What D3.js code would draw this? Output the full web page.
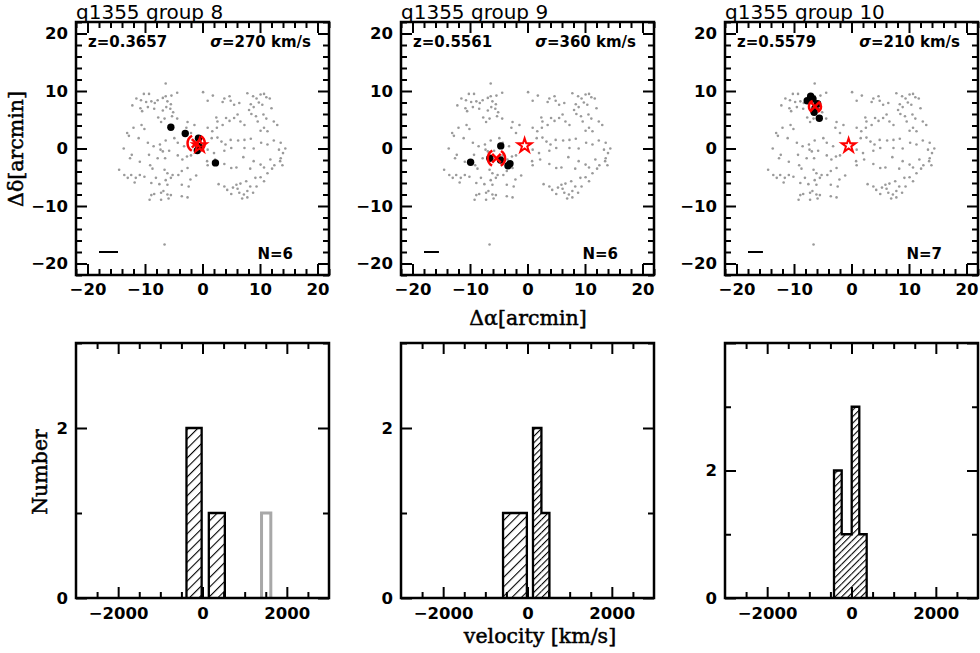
<!DOCTYPE html>
<html>
<head>
<meta charset="utf-8">
<script src="https://cdn.jsdelivr.net/npm/d3@7"></script>
<style>
  body { margin: 0; background: #fff; }
  svg { display: block; }
  .tick text { font-family: "DejaVu Sans", sans-serif; font-weight: bold; font-size: 16.5px; fill: #000; }
  .lbl { font-family: "DejaVu Serif", serif; font-size: 20.5px; fill: #000; stroke: #000; stroke-width: 0.5px; }
  .note { font-family: "DejaVu Sans", sans-serif; font-weight: bold; font-size: 15px; fill: #000; }
  .title { font-family: "DejaVu Sans", sans-serif; font-size: 20px; fill: #000; }
</style>
</head>
<body>
<svg width="980" height="653"></svg>
<script>
// ---- data ----
const groupNames = ["q1355 group 8", "q1355 group 9", "q1355 group 10"];
const redshifts = ["0.3657", "0.5561", "0.5579"];
const sigmas = [270, 360, 210];
const memberCounts = [6, 6, 7];

// all redshift-survey galaxies in the field, arcmin offsets [dRA, dDec]
const fieldGalaxies = [
  [-6.4,11.3],[-11.5,8.7],[-10.2,9.5],[-9.3,9.5],[-10.7,8.4],[-9.8,8.1],[-8.9,8.2],[-8.3,7.9],[-7.8,8.4],[-6.9,8.8],
  [-6.4,9.1],[-6.1,8.2],[-5.4,9.2],[-4.4,9.7],[-5.5,7.7],[0.1,9.8],[1.8,9.2],[0.9,8.3],[4.7,9.1],[3.8,8.7],
  [3.5,8.1],[4.9,8.3],[5.5,7.6],[6.4,7.9],[7.8,9.6],[8.8,9.1],[9.4,8.7],[10.1,9.4],[10.7,9.5],[11.1,8.9],
  [11.7,8.7],[9.8,8.0],[10.4,7.6],[8.4,7.7],[8.9,7.2],[8.1,6.7],[12.0,7.0],
  [-12.2,7.5],[-10.8,7.0],[-10.5,6.5],[-9.5,7.2],[-8.4,6.9],[-6.9,6.6],[-6.3,7.2],[-5.6,6.9],[-5.1,6.3],
  [-5.3,5.6],[-4.4,5.2],[-7.7,5.4],[-7.2,4.6],[-6.6,5.2],[-10.6,4.1],[-10.1,3.4],[-12.0,3.6],[-13.1,2.7],[-12.8,2.2],
  [-2.6,4.6],[-1.4,4.1],[-2.0,2.7],[-2.8,3.6],[2.4,5.4],[2.6,4.7],[3.5,4.1],[4.1,5.3],[4.7,4.8],[5.5,5.3],
  [6.1,5.9],[6.6,4.7],[7.3,4.1],[8.5,6.0],[9.3,5.6],[9.6,4.7],[10.6,5.9],[11.1,5.2],[12.4,4.7],[13.0,4.1],
  [10.7,3.6],[11.3,3.0],[10.1,3.1],
  [-11.1,1.8],[-9.5,1.0],[-8.5,0.4],[-7.4,0.7],[-6.4,1.4],[-4.9,1.8],[-4.3,1.0],[-3.2,0.4],[0.9,3.6],[1.7,3.0],
  [2.5,3.6],[1.6,1.8],[2.6,1.9],[3.3,1.2],[4.0,0.7],[4.9,1.5],[5.0,0.1],[6.2,1.4],[7.3,1.5],[8.4,1.7],
  [7.3,0.1],[8.9,0.0],[10.2,1.0],[11.3,0.7],[12.4,1.4],[13.6,1.0],[13.3,-0.2],[14.4,0.0],[14.0,-0.8],[-13.7,0.0],
  [-12.3,-1.1],[-12.6,-1.7],[-10.9,-2.3],[-7.3,-0.2],[-6.9,-0.5],[-5.8,-0.4],[-9.3,-1.1],[-7.8,-1.7],[-6.5,-1.7],[-4.3,-1.2],
  [-3.5,-1.9],[-2.7,-1.4],[-2.0,-1.2],[0.2,0.7],[0.9,-0.2],[2.0,-0.8],[3.8,-0.4],
  [0.8,-2.2],[0.9,-2.9],[2.2,-1.9],[3.8,-2.7],[5.0,-3.4],[5.9,-3.3],[7.1,-1.5],[8.3,-3.5],[8.9,-2.2],[10.1,-2.8],
  [10.7,-3.3],[11.3,-4.3],[12.1,-3.5],[12.5,-2.9],[13.5,-2.2],[13.9,-2.9],[13.6,-1.7],[11.8,-1.9],[-14.5,-3.7],[-13.6,-4.6],
  [-13.0,-5.1],[-12.4,-4.6],[-11.6,-5.1],[-10.9,-4.6],[-10.1,-4.9],[-9.1,-2.9],[-8.7,-3.5],[-6.6,-3.7],[-6.1,-4.3],[-5.2,-4.6],
  [-5.5,-5.1],[-4.2,-4.6],[-2.6,-3.4],[-3.6,-3.9],[-1.1,-4.7],[-2.1,-5.4],
  [-11.8,-5.9],[-8.9,-6.0],[-8.1,-5.1],[-7.5,-6.2],[-6.4,-5.5],[-6.1,-6.3],[-3.6,-6.3],[-2.4,-6.6],[2.8,-6.2],[3.8,-6.6],
  [4.3,-7.2],[5.3,-6.8],[5.9,-6.3],[6.6,-6.1],[7.6,-5.7],[8.3,-6.6],[9.2,-5.1],[10.1,-5.0],[10.7,-5.7],[9.4,-6.6],
  [7.8,-7.4],[7.2,-8.0],[8.8,-7.7],[6.4,-7.7],[6.1,-7.0],[5.0,-7.9],[-8.9,-8.1],[-8.4,-7.9],[-7.2,-7.7],[-6.8,-7.4],
  [-6.1,-8.0],[-5.5,-8.1],[-3.6,-8.3],[-2.6,-8.5],[-7.2,-8.9],[-5.9,-8.7],[-9.2,-8.9],[6.9,-8.7],[7.8,-8.5],[-6.6,-16.7]
];

// group members [dRA, dDec]
const members = [
  [[-5.5,3.7],[-3.0,2.6],[-0.7,1.8],[-0.6,0.35],[-0.9,-0.35],[2.25,-2.5]],
  [[-9.9,-2.4],[-6.55,-1.7],[-4.65,0.45],[-4.7,-2.0],[-3.4,-3.0],[-3.05,-2.65]],
  [[-7.1,9.1],[-7.7,8.3],[-6.7,8.6],[-5.9,7.8],[-6.35,7.0],[-6.5,6.3],[-5.6,5.25]]
];
const groupCentres = [[-1.1, 0.9], [-5.4, -1.7], [-6.35, 7.3]];
const centreRadius = [1.5, 1.5, 1.05];       // arcmin
const qsoPos = [-0.5, 0.5];
const scaleBarLength = [3.3, 2.6, 2.6];      // arcmin

// velocity histograms: [v_low, v_high, count]
const velBins = [
  [[-380, -20, 2], [150, 530, 1]],
  [[-580, -15, 1], [130, 330, 2], [330, 520, 1]],
  [[-415, -232, 2], [-232, 5, 1], [5, 185, 3], [185, 360, 1]]
];
const rejectedBins = [[[1400, 1620, 1]], [], []];
const histMax = [3, 3, 4];

// ---- layout ----
const svg = d3.select("svg");
const colX = [76, 401, 725];
const panelW = 253;
const topY = 22, topB = 275;
const botY = 343, botB = 598;

const defs = svg.append("defs");
function hatch(id, gap) {
  const p = defs.append("pattern").attr("id", id)
    .attr("patternUnits", "userSpaceOnUse")
    .attr("width", gap).attr("height", gap)
    .attr("patternTransform", "rotate(45)");
  p.append("line").attr("x1", 0).attr("y1", 0).attr("x2", 0).attr("y2", gap)
    .attr("stroke", "#000").attr("stroke-width", 2.2);
}
hatch("hatchDense", 4.6);
hatch("hatchSparse", 6.7);

function axes(g, x, y, xMajor, xMinor, yMajor, yMinor, pad, yLabels) {
  const [l, r] = x.range(), [b, t] = y.range();
  const w = r - l, h = b - t;
  const fmt = d3.format("d");
  const add = (axis, tr, labels) => {
    const a = g.append("g").attr("transform", tr).call(axis);
    a.select(".domain").remove();
    a.selectAll(".tick line").attr("stroke-width", 2);
    if (!labels) a.selectAll(".tick text").remove();
  };
  // bottom / left carry labels
  add(d3.axisBottom(x).tickValues(xMajor).tickSize(-11).tickPadding(pad).tickFormat(fmt), `translate(0,${b})`, true);
  add(d3.axisBottom(x).tickValues(xMinor).tickSize(-6).tickFormat(""), `translate(0,${b})`, false);
  add(d3.axisTop(x).tickValues(xMajor).tickSize(-11), `translate(0,${t})`, false);
  add(d3.axisTop(x).tickValues(xMinor).tickSize(-6), `translate(0,${t})`, false);
  add(d3.axisLeft(y).tickValues(yMajor).tickSize(-11).tickPadding(8)
        .tickFormat(v => (yLabels.includes(v) ? fmt(v) : "")), `translate(${l},0)`, true);
  add(d3.axisLeft(y).tickValues(yMinor).tickSize(-6).tickFormat(""), `translate(${l},0)`, false);
  add(d3.axisRight(y).tickValues(yMajor).tickSize(-11), `translate(${r},0)`, false);
  add(d3.axisRight(y).tickValues(yMinor).tickSize(-6), `translate(${r},0)`, false);
  g.append("rect").attr("x", l).attr("y", t).attr("width", w).attr("height", h)
    .attr("fill", "none").attr("stroke", "#000").attr("stroke-width", 2.5);
}

const star = d3.symbol().type(d3.symbolStar).size(60);
const skyTicks = [-20, -10, 0, 10, 20];
const skyMinor = d3.range(-22, 23, 2).filter(v => v % 10 !== 0);

groupNames.forEach((name, i) => {
  const x0 = colX[i];

  // ---------- sky panel ----------
  const x = d3.scaleLinear().domain([-22, 22]).range([x0, x0 + panelW]);
  const y = d3.scaleLinear().domain([-22, 22]).range([topB, topY]);
  const g = svg.append("g");

  g.selectAll("circle.field").data(fieldGalaxies).enter().append("circle")
    .attr("class", "field")
    .attr("cx", d => x(d[0])).attr("cy", d => y(d[1])).attr("r", 1.3)
    .attr("fill", "#9a9a9a");

  g.selectAll("circle.member").data(members[i]).enter().append("circle")
    .attr("class", "member")
    .attr("cx", d => x(d[0])).attr("cy", d => y(d[1])).attr("r", 3.7)
    .attr("fill", "#000");

  // quasar position
  g.append("path").attr("d", star)
    .attr("transform", `translate(${x(qsoPos[0])},${y(qsoPos[1])})`)
    .attr("fill", "none").attr("stroke", "#f00").attr("stroke-width", 2);

  // group centre: cross + dashed circle (only side arcs)
  const cx = x(groupCentres[i][0]), cy = y(groupCentres[i][1]);
  const rr = x(centreRadius[i]) - x(0);
  const C = 2 * Math.PI * rr;
  g.append("circle").attr("cx", cx).attr("cy", cy).attr("r", rr)
    .attr("fill", "none").attr("stroke", "#f00").attr("stroke-width", 2.5)
    .attr("stroke-dasharray", [C / 6, C / 6, C / 3, C / 6, C / 6].join(","));
  const s = 4.3;
  g.append("path")
    .attr("d", `M${cx - s},${cy - s}L${cx + s},${cy + s}M${cx - s},${cy + s}L${cx + s},${cy - s}`)
    .attr("stroke", "#f00").attr("stroke-width", 2.5);

  // scale bar
  g.append("line")
    .attr("x1", x(-18)).attr("x2", x(-18 + scaleBarLength[i]))
    .attr("y1", y(-18)).attr("y2", y(-18))
    .attr("stroke", "#000").attr("stroke-width", 2);

  axes(g, x, y, skyTicks, skyMinor, skyTicks, skyMinor, 8, skyTicks);

  svg.append("text").attr("class", "title").attr("x", x0).attr("y", 19).text(name);
  svg.append("text").attr("class", "note").attr("x", x0 + 12).attr("y", topY + 25)
    .text("z=" + redshifts[i]);
  const sg = svg.append("text").attr("class", "note").attr("text-anchor", "end")
    .attr("x", x0 + panelW - 18).attr("y", topY + 25);
  sg.append("tspan").attr("font-style", "italic").text("σ");
  sg.append("tspan").text("=" + sigmas[i] + " km/s");
  svg.append("text").attr("class", "note").attr("text-anchor", "end")
    .attr("x", x0 + panelW - 36).attr("y", topB - 16).text("N=" + memberCounts[i]);

  // ---------- velocity histogram ----------
  const hx = d3.scaleLinear().domain([-3000, 3000]).range([x0, x0 + panelW]);
  const hy = d3.scaleLinear().domain([0, histMax[i]]).range([botB, botY]);
  const hg = svg.append("g");

  hg.selectAll("rect.bin").data(velBins[i]).enter().append("rect")
    .attr("class", "bin")
    .attr("x", d => hx(d[0])).attr("width", d => hx(d[1]) - hx(d[0]))
    .attr("y", d => hy(d[2])).attr("height", d => hy(0) - hy(d[2]))
    .attr("fill", d => (hx(d[1]) - hx(d[0]) < 12 ? "url(#hatchDense)" : "url(#hatchSparse)"));

  // outline as step path over contiguous bins
  const runs = [];
  velBins[i].forEach(d => {
    const last = runs[runs.length - 1];
    if (last && Math.abs(last[last.length - 1][1] - d[0]) < 1) last.push(d);
    else runs.push([d]);
  });
  const line = d3.line().x(p => hx(p[0])).y(p => hy(p[1]));
  runs.forEach(run => {
    const pts = [[run[0][0], 0]];
    run.forEach(d => { pts.push([d[0], d[2]]); pts.push([d[1], d[2]]); });
    pts.push([run[run.length - 1][1], 0]);
    hg.append("path").attr("d", line(pts)).attr("fill", "none")
      .attr("stroke", "#000").attr("stroke-width", 2.3);
  });
  rejectedBins[i].forEach(d => {
    hg.append("path").attr("d", line([[d[0], 0], [d[0], d[2]], [d[1], d[2]], [d[1], 0]]))
      .attr("fill", "none").attr("stroke", "#a8a8a8").attr("stroke-width", 3);
  });

  const yt = d3.range(0, histMax[i] + 1);
  axes(hg, hx, hy, [-2000, 0, 2000], d3.range(-2500, 3000, 500).filter(v => v % 2000 !== 0),
       yt.filter(v => v % 2 === 0), yt.filter(v => v % 2 !== 0), 9, [0, 2]);
});

// axis titles
svg.append("text").attr("class", "lbl").attr("text-anchor", "middle")
  .attr("transform", "translate(23,149) rotate(-90)").text("Δδ[arcmin]");
svg.append("text").attr("class", "lbl").attr("text-anchor", "middle")
  .attr("x", 528).attr("y", 325).text("Δα[arcmin]");
svg.append("text").attr("class", "lbl").attr("text-anchor", "middle")
  .attr("transform", "translate(47,472) rotate(-90)").text("Number");
svg.append("text").attr("class", "lbl").attr("text-anchor", "middle")
  .attr("x", 540).attr("y", 643).text("velocity [km/s]");
</script>
</body>
</html>
